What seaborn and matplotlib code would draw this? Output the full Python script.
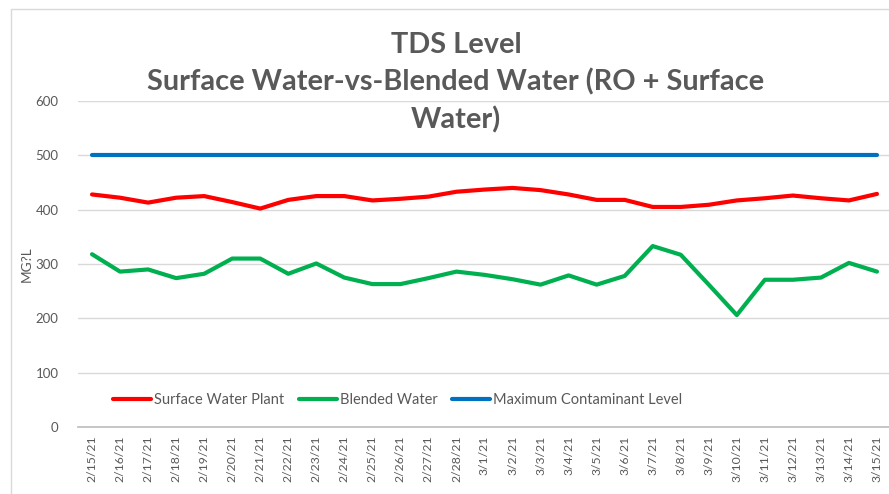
import matplotlib
matplotlib.use("Agg")
import matplotlib.pyplot as plt
import seaborn as sns
import pandas as pd

dates = ["2/15/21", "2/16/21", "2/17/21", "2/18/21", "2/19/21", "2/20/21", "2/21/21",
         "2/22/21", "2/23/21", "2/24/21", "2/25/21", "2/26/21", "2/27/21", "2/28/21",
         "3/1/21", "3/2/21", "3/3/21", "3/4/21", "3/5/21", "3/6/21", "3/7/21",
         "3/8/21", "3/9/21", "3/10/21", "3/11/21", "3/12/21", "3/13/21", "3/14/21", "3/15/21"]
surface_water = [428, 422, 413, 422, 425, 414, 402, 418, 425, 425, 417, 420, 424, 433,
                 437, 440, 436, 428, 418, 418, 405, 405, 409, 417, 421, 426, 421, 417, 429]
blended_water = [318, 286, 290, 274, 282, 310, 310, 282, 301, 275, 263, 263, 274, 286,
                 280, 272, 262, 279, 262, 278, 333, 317, 262, 206, 271, 271, 275, 302, 286]
mcl = [500] * len(dates)

series_names = ["Surface Water Plant", "Blended Water", "Maximum Contaminant Level"]
colors = ["#FF0000", "#00B050", "#0070C0"]
yticks = [0, 100, 200, 300, 400, 500, 600]

rows = []
for name, vals in zip(series_names, [surface_water, blended_water, mcl]):
    for i, (d, v) in enumerate(zip(dates, vals)):
        rows.append({"idx": i, "date": d, "value": v, "series": name})
df = pd.DataFrame(rows)

sns.set_theme(style="white")
plt.rcParams["font.family"] = ["Lato", "DejaVu Sans"]

W, H = 889, 494
fig = plt.figure(figsize=(W / 100, H / 100), dpi=100)
# chart border
fig.patches.append(plt.Rectangle((11 / W, -0.05), 1.2, (H - 9) / H + 0.05,
                                 transform=fig.transFigure, fill=False,
                                 edgecolor="#D9D9D9", linewidth=1.0))

ax = fig.add_axes([78 / W, (H - 427) / H, 813 / W, 326 / H])
sns.lineplot(data=df, x="idx", y="value", hue="series", hue_order=series_names,
             palette=colors, linewidth=3.0, ax=ax, legend=False, sort=False)
for ln in ax.get_lines():
    ln.set_solid_capstyle("round")

ax.set_xlim(-0.5, len(dates) - 0.5)
ax.set_ylim(0, 600)
ax.set_yticks(yticks)
ax.set_yticklabels([str(t) for t in yticks], fontsize=9.5, color="#595959")
ax.yaxis.grid(True, color="#D9D9D9", linewidth=1.0)
ax.set_axisbelow(True)
ax.set_xticks(range(len(dates)))
ax.set_xticklabels(dates, rotation=90, fontsize=8.8, color="#595959")
ax.set_xticks([i - 0.5 for i in range(len(dates) + 1)], minor=True)
ax.tick_params(axis="x", which="major", length=0, pad=6)
ax.tick_params(axis="x", which="minor", length=5, color="#BFBFBF", width=1, direction="out")
ax.tick_params(axis="y", length=0, pad=14)
for s in ["top", "right", "left"]:
    ax.spines[s].set_visible(False)
ax.spines["bottom"].set_color("#BFBFBF")
ax.set_xlabel("")
ax.set_ylabel("MG?L", fontsize=9.8, color="#595959", labelpad=2)

# title
title_lines = ["TDS Level", "Surface Water-vs-Blended Water (RO + Surface", "Water)"]
for k, (line, yp) in enumerate(zip(title_lines, [45, 82, 120])):
    fig.text(456 / W, 1 - yp / H, line, ha="center", va="center", fontsize=20.8,
             fontweight="bold", color="#595959")

# legend
handles = ax.get_lines()[:3]
leg = fig.legend(handles, series_names, loc="center left",
                 bbox_to_anchor=(100 / W, 1 - 400 / H), ncol=3, frameon=False,
                 fontsize=10.5, handlelength=2.6, handletextpad=0.2, columnspacing=1.0,
                 labelcolor="#595959")

fig.savefig("out.png", dpi=100)
